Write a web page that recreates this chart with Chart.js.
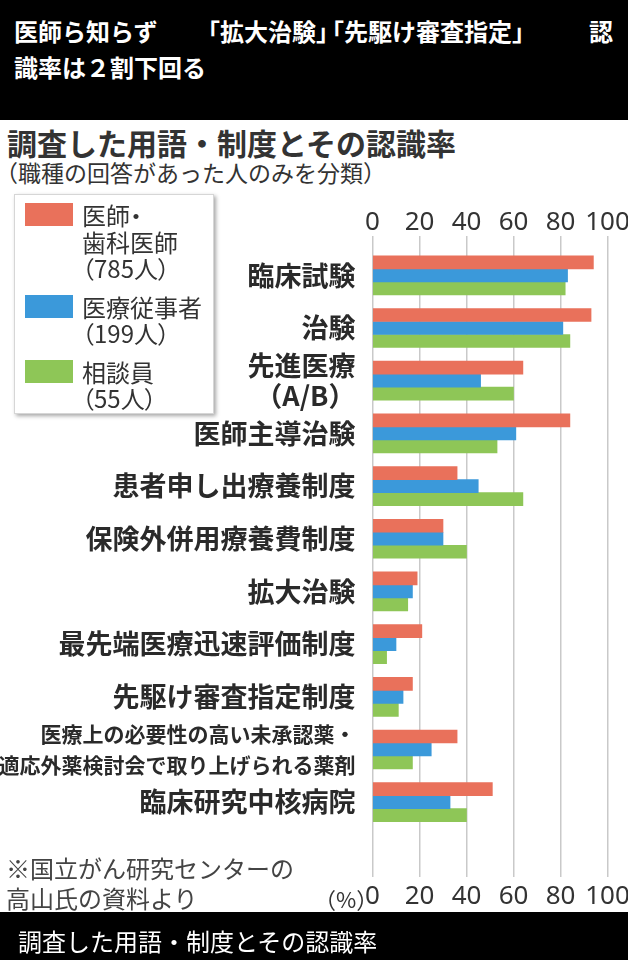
<!DOCTYPE html>
<html lang="ja">
<head>
<meta charset="utf-8">
<title>調査した用語・制度とその認識率</title>
<script src="https://cdn.jsdelivr.net/npm/chart.js@4.4.1/dist/chart.umd.min.js"></script>
<style>
  html, body { margin: 0; padding: 0; }
  body {
    width: 628px; height: 960px; position: relative; overflow: hidden;
    background: #fff; font-family: "Noto Sans CJK JP", "Noto Sans", sans-serif;
  }
  .abs { position: absolute; white-space: pre; }
  #header { position: absolute; left: 0; top: 0; width: 628px; height: 120px; background: #000; }
  .head { color: #fff; font-size: 24px; font-weight: bold; line-height: 36px; }
  #title { left: 7px; top: 124px; font-size: 30px; line-height: 36px; font-weight: bold; color: #333; }
  #subtitle { left: -5px; top: 157px; font-size: 23px; line-height: 30px; color: #333; }
  #legend {
    position: absolute; left: 14px; top: 194px; width: 200px; height: 220px;
    border: 1px solid #d6d6d6; background: #fff; box-shadow: 2px 2px 4px rgba(0,0,0,0.35);
    padding-top: 7px; box-sizing: border-box; z-index: 2;
  }
  .item { display: flex; align-items: flex-start; margin-bottom: 12px; }
  .swatch { width: 48px; height: 23px; margin-left: 10px; margin-top: 1px; flex: none; }
  .ltext {
    margin-left: 9px; font-size: 24px; line-height: 26.5px; color: #333; white-space: pre;
    font-feature-settings: "palt";
  }
  #chart { position: absolute; left: 0; top: 190px; }
  .note { left: 6px; font-size: 24px; line-height: 30px; color: #444; }
  #pct { left: 314px; top: 885px; font-size: 22px; line-height: 26px; color: #333; }
  #footer { position: absolute; left: 0; top: 912px; width: 628px; height: 48px; background: #000; }
  #footText { left: 18px; top: 14px; font-size: 24px; line-height: 30px; color: #fff; }
</style>
</head>
<body>
<div id="header">
  <div class="abs head" style="top:13px;left:14px">医師ら知らず</div>
  <div class="abs head" style="top:13px;left:196px">「拡大治験」</div>
  <div class="abs head" style="top:13px;left:320px">「先駆け審査指定」</div>
  <div class="abs head" style="top:13px;left:589px">認</div>
  <div class="abs head" style="top:49px;left:14px">識率は２割下回る</div>
</div>
<div id="title" class="abs">調査した用語・制度とその認識率</div>
<div id="subtitle" class="abs">（職種の回答があった人のみを分類）</div>
<div id="legend"></div>
<canvas id="chart" width="628" height="722"></canvas>
<div class="abs note" style="top:853px">※国立がん研究センターの</div>
<div class="abs note" style="top:883px">高山氏の資料より</div>
<div id="pct" class="abs">（%）</div>
<div id="footer"><div id="footText" class="abs">調査した用語・制度とその認識率</div></div>

<script>
// Terms surveyed (top to bottom)
const categories = [
    '臨床試験',
    '治験',
    ['先進医療', '（A/B）'],
    '医師主導治験',
    '患者申し出療養制度',
    '保険外併用療養費制度',
    '拡大治験',
    '最先端医療迅速評価制度',
    '先駆け審査指定制度',
    ['医療上の必要性の高い未承認薬・', '適応外薬検討会で取り上げられる薬剤'],
    '臨床研究中核病院'
];

// Recognition rate (%) per group
const doctors = [94, 93, 64, 84, 36, 30, 19, 21, 17, 36, 51];
const medicalStaff = [83, 81, 46, 61, 45, 30, 17, 10, 13, 25, 33];
const counselors = [82, 84, 60, 53, 64, 40, 15, 6, 11, 17, 40];

// Legend names (one entry per line)
const seriesNames = [
    ['医師・', '歯科医師', '（785人）'],
    ['医療従事者', '（199人）'],
    ['相談員', '（55人）']
];
const seriesColors = ['#e9715b', '#3b99da', '#8ec657'];

// Axis ticks
const xTicks = [0, 20, 40, 60, 80, 100];

const cjk = '"Noto Sans CJK JP", sans-serif';
const gridColor = '#c9c9c9';

const datasets = [doctors, medicalStaff, counselors].map((values, i) => ({
    label: seriesNames[i].join(''),
    data: values,
    backgroundColor: seriesColors[i],
    borderWidth: 0,
    barThickness: 13
}));

function useTicks(scale) {
    scale.ticks = xTicks.map(v => ({ value: v }));
}

// fixed axis band heights, no extra room for the end labels
function fixHeight(h) {
    return s => {
        s.height = h;
        s.paddingLeft = 0;
        s.paddingRight = 0;
    };
}

const tickFont = { family: '"Noto Sans", sans-serif', size: 26, lineHeight: 1 };

const ctx = document.getElementById('chart').getContext('2d');
const chart = new Chart(ctx, {
    type: 'bar',
    data: { labels: categories, datasets: datasets },
    options: {
        indexAxis: 'y',
        responsive: false,
        animation: false,
        layout: { padding: { left: 0, right: 20.5, top: 0, bottom: 0 } },
        plugins: { legend: { display: false }, tooltip: { enabled: false } },
        scales: {
            y: {
                type: 'category',
                offset: true,
                grid: { display: false },
                border: { display: false },
                ticks: {
                    autoSkip: false,
                    padding: 9,
                    color: '#2a2a2a',
                    font: c => {
                        const lab = categories[c.index];
                        const long = Array.isArray(lab) && lab[0].length > 10;
                        return long
                            ? { family: cjk, weight: 'bold', size: 21, lineHeight: 1.5 }
                            : { family: cjk, weight: 'bold', size: 27, lineHeight: 1.1 };
                    }
                },
                afterFit: s => { s.width = 372.5; }
            },
            x: {
                type: 'linear',
                position: 'bottom',
                min: 0,
                max: 100,
                grid: { color: gridColor, lineWidth: 1.5, drawTicks: true, tickLength: 48.5 },
                border: { display: false },
                ticks: { padding: 7, color: '#333', font: tickFont, maxRotation: 0, minRotation: 0, autoSkip: false },
                afterBuildTicks: useTicks,
                afterFit: fixHeight(83.5)
            },
            x2: {
                type: 'linear',
                axis: 'x',
                position: 'top',
                min: 0,
                max: 100,
                grid: { color: gridColor, lineWidth: 1.5, drawTicks: true, tickLength: 13, drawOnChartArea: false },
                border: { display: false },
                ticks: { padding: 0, color: '#333', font: tickFont, maxRotation: 0, minRotation: 0, autoSkip: false },
                afterBuildTicks: useTicks,
                afterFit: fixHeight(59)
            }
        }
    }
});

// HTML legend from the series
const legend = document.getElementById('legend');
seriesNames.forEach((lines, i) => {
    const item = document.createElement('div');
    item.className = 'item';
    item.innerHTML = `<div class="swatch" style="background:${seriesColors[i]}"></div>` +
        `<div class="ltext">${lines.join('\n')}</div>`;
    legend.appendChild(item);
});
</script>
</body>
</html>
